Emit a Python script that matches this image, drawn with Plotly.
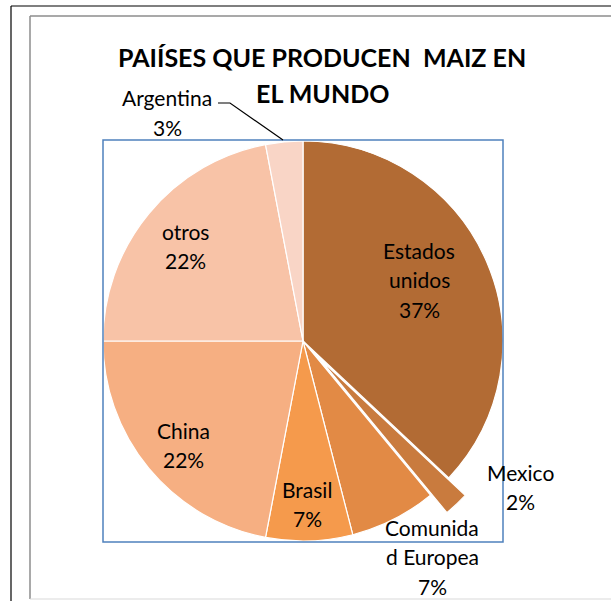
import plotly.graph_objects as go

W, H = 611, 601

# ---- data ----
labels = ["Estados unidos", "Mexico", "Comunidad Europea", "Brasil", "China", "otros", "Argentina"]
values = [37, 2, 7, 7, 22, 22, 3]
label_lines = [["Estados", "unidos"], ["Mexico"], ["Comunida", "d Europea"], ["Brasil"],
               ["China"], ["otros"], ["Argentina"]]
colors = ["#B26B34", "#C97B3E", "#E28A45", "#F59A4C", "#F6AF82", "#F8C3A7", "#F9D5C6"]
pulls = [0, 0.12, 0, 0, 0, 0, 0]
title_lines = ["PAIÍSES QUE PRODUCEN  MAIZ EN", "EL MUNDO"]

# label anchor (pixel centre of first line)
label_pos = [(419, 250), (520, 472), (432, 527), (307, 489), (183, 430), (185, 231), (167, 98)]
LINE = 29.5


def px(x):
    return x / W


def py(y):
    return 1 - y / H


# pie geometry: centre (303,341), radius 200 ; domain enlarged for pull
cx, cy, r = 303, 341, 200
R = r * (1 + max(pulls))

fig = go.Figure(go.Pie(
    labels=labels, values=values, sort=False, direction="clockwise", rotation=0,
    marker=dict(colors=colors, line=dict(color="white", width=1.2)),
    pull=pulls, textinfo="none", hoverinfo="label+percent", showlegend=False,
    domain=dict(x=[px(cx - R), px(cx + R)], y=[py(cy + R), py(cy - R)]),
))

total = sum(values)
ann = []
font = dict(family="Lato, Open Sans, sans-serif", size=21, color="#000000")
for lines, v, (x, y) in zip(label_lines, values, label_pos):
    texts = lines + [f"{round(100 * v / total)}%"]
    for i, t in enumerate(texts):
        ann.append(dict(x=px(x), y=py(y + i * LINE), xref="paper", yref="paper",
                        text=t, showarrow=False, font=font,
                        xanchor="center", yanchor="middle"))

tfont = dict(family="Lato, Open Sans, sans-serif", size=25, color="#000000")
for i, t in enumerate(title_lines):
    ann.append(dict(x=px(322), y=py(57 + i * 36), xref="paper", yref="paper",
                    text=f"<b>{t}</b>", showarrow=False, font=tfont,
                    xanchor="center", yanchor="middle"))

shapes = [
    # outer black frame
    dict(type="line", xref="paper", yref="paper", x0=px(11), x1=px(11), y0=py(6), y1=0,
         line=dict(color="#000000", width=1.2)),
    dict(type="line", xref="paper", yref="paper", x0=px(11), x1=1, y0=py(6), y1=py(6),
         line=dict(color="#000000", width=1.2)),
    # chart area gray frame
    dict(type="line", xref="paper", yref="paper", x0=px(30), x1=px(30), y0=py(16), y1=py(599),
         line=dict(color="#8C8C8C", width=1.5)),
    dict(type="line", xref="paper", yref="paper", x0=px(30), x1=1, y0=py(16), y1=py(16),
         line=dict(color="#8C8C8C", width=1.5)),
    dict(type="line", xref="paper", yref="paper", x0=px(30), x1=1, y0=py(599), y1=py(599),
         line=dict(color="#D9D9D9", width=1)),
    # plot area blue rectangle
    dict(type="rect", xref="paper", yref="paper", x0=px(103), x1=px(503), y0=py(542), y1=py(140),
         line=dict(color="#4F81BD", width=1.5), fillcolor="rgba(0,0,0,0)"),
    # Argentina leader line
    dict(type="path", xref="paper", yref="paper",
         path=f"M {px(218)},{py(103)} L {px(230)},{py(103)} L {px(283)},{py(140)}",
         line=dict(color="#000000", width=1.2)),
]

fig.update_layout(width=W, height=H, margin=dict(l=0, r=0, t=0, b=0),
                  paper_bgcolor="white", plot_bgcolor="white",
                  annotations=ann, shapes=shapes)

fig.write_html("out.html", config={"displayModeBar": False},
               post_script="document.body.style.margin='0';document.body.style.overflow='hidden';")
